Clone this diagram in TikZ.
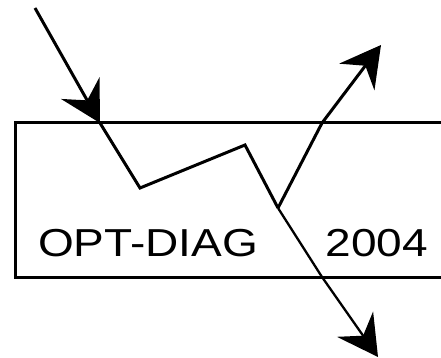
\documentclass[tikz,border=0pt]{standalone}
\usepackage{fontspec}
\setmainfont{Liberation Sans}
\usetikzlibrary{arrows.meta}
\tikzset{
  ray/.style={line width=3pt, line join=miter},
  thinray/.style={line width=2.3pt, line join=miter},
  bigtip/.style={-{Stealth[length=40pt, width=44pt, inset=14pt]}},
  label/.style={inner sep=0pt, anchor=base west, font=\fontsize{39}{39}\selectfont},
  box/.style={line width=3pt}
}
\begin{document}
\begin{tikzpicture}[x=1pt, y=-1pt]
\clip (0,0) rectangle (441,358);
\useasboundingbox (0,0) rectangle (441,358);
\coordinate (A) at (35,8);
\coordinate (B) at (100,123);
\coordinate (C) at (140,188);
\coordinate (D) at (245,145);
\coordinate (E) at (278,208);
\coordinate (F) at (322,123);
\coordinate (G) at (381,45);
\coordinate (H) at (322,277);
\coordinate (I) at (378,357);
\draw[box] (15,123) rectangle (443,277);
\node[label] (t1) at (37.8,256) {\scalebox{1.18}[1]{OPT-DIAG}};
\node[label] (t2) at (325.6,256) {\scalebox{1.18}[1]{2004}};
\draw[ray, bigtip] (A) -- (B);
\draw[ray] (B) -- (C) -- (D) -- (E);
\draw[ray, bigtip] (E) -- (F) -- (G);
\draw[thinray, bigtip] (E) -- (H) -- (I);
\end{tikzpicture}
\end{document}
